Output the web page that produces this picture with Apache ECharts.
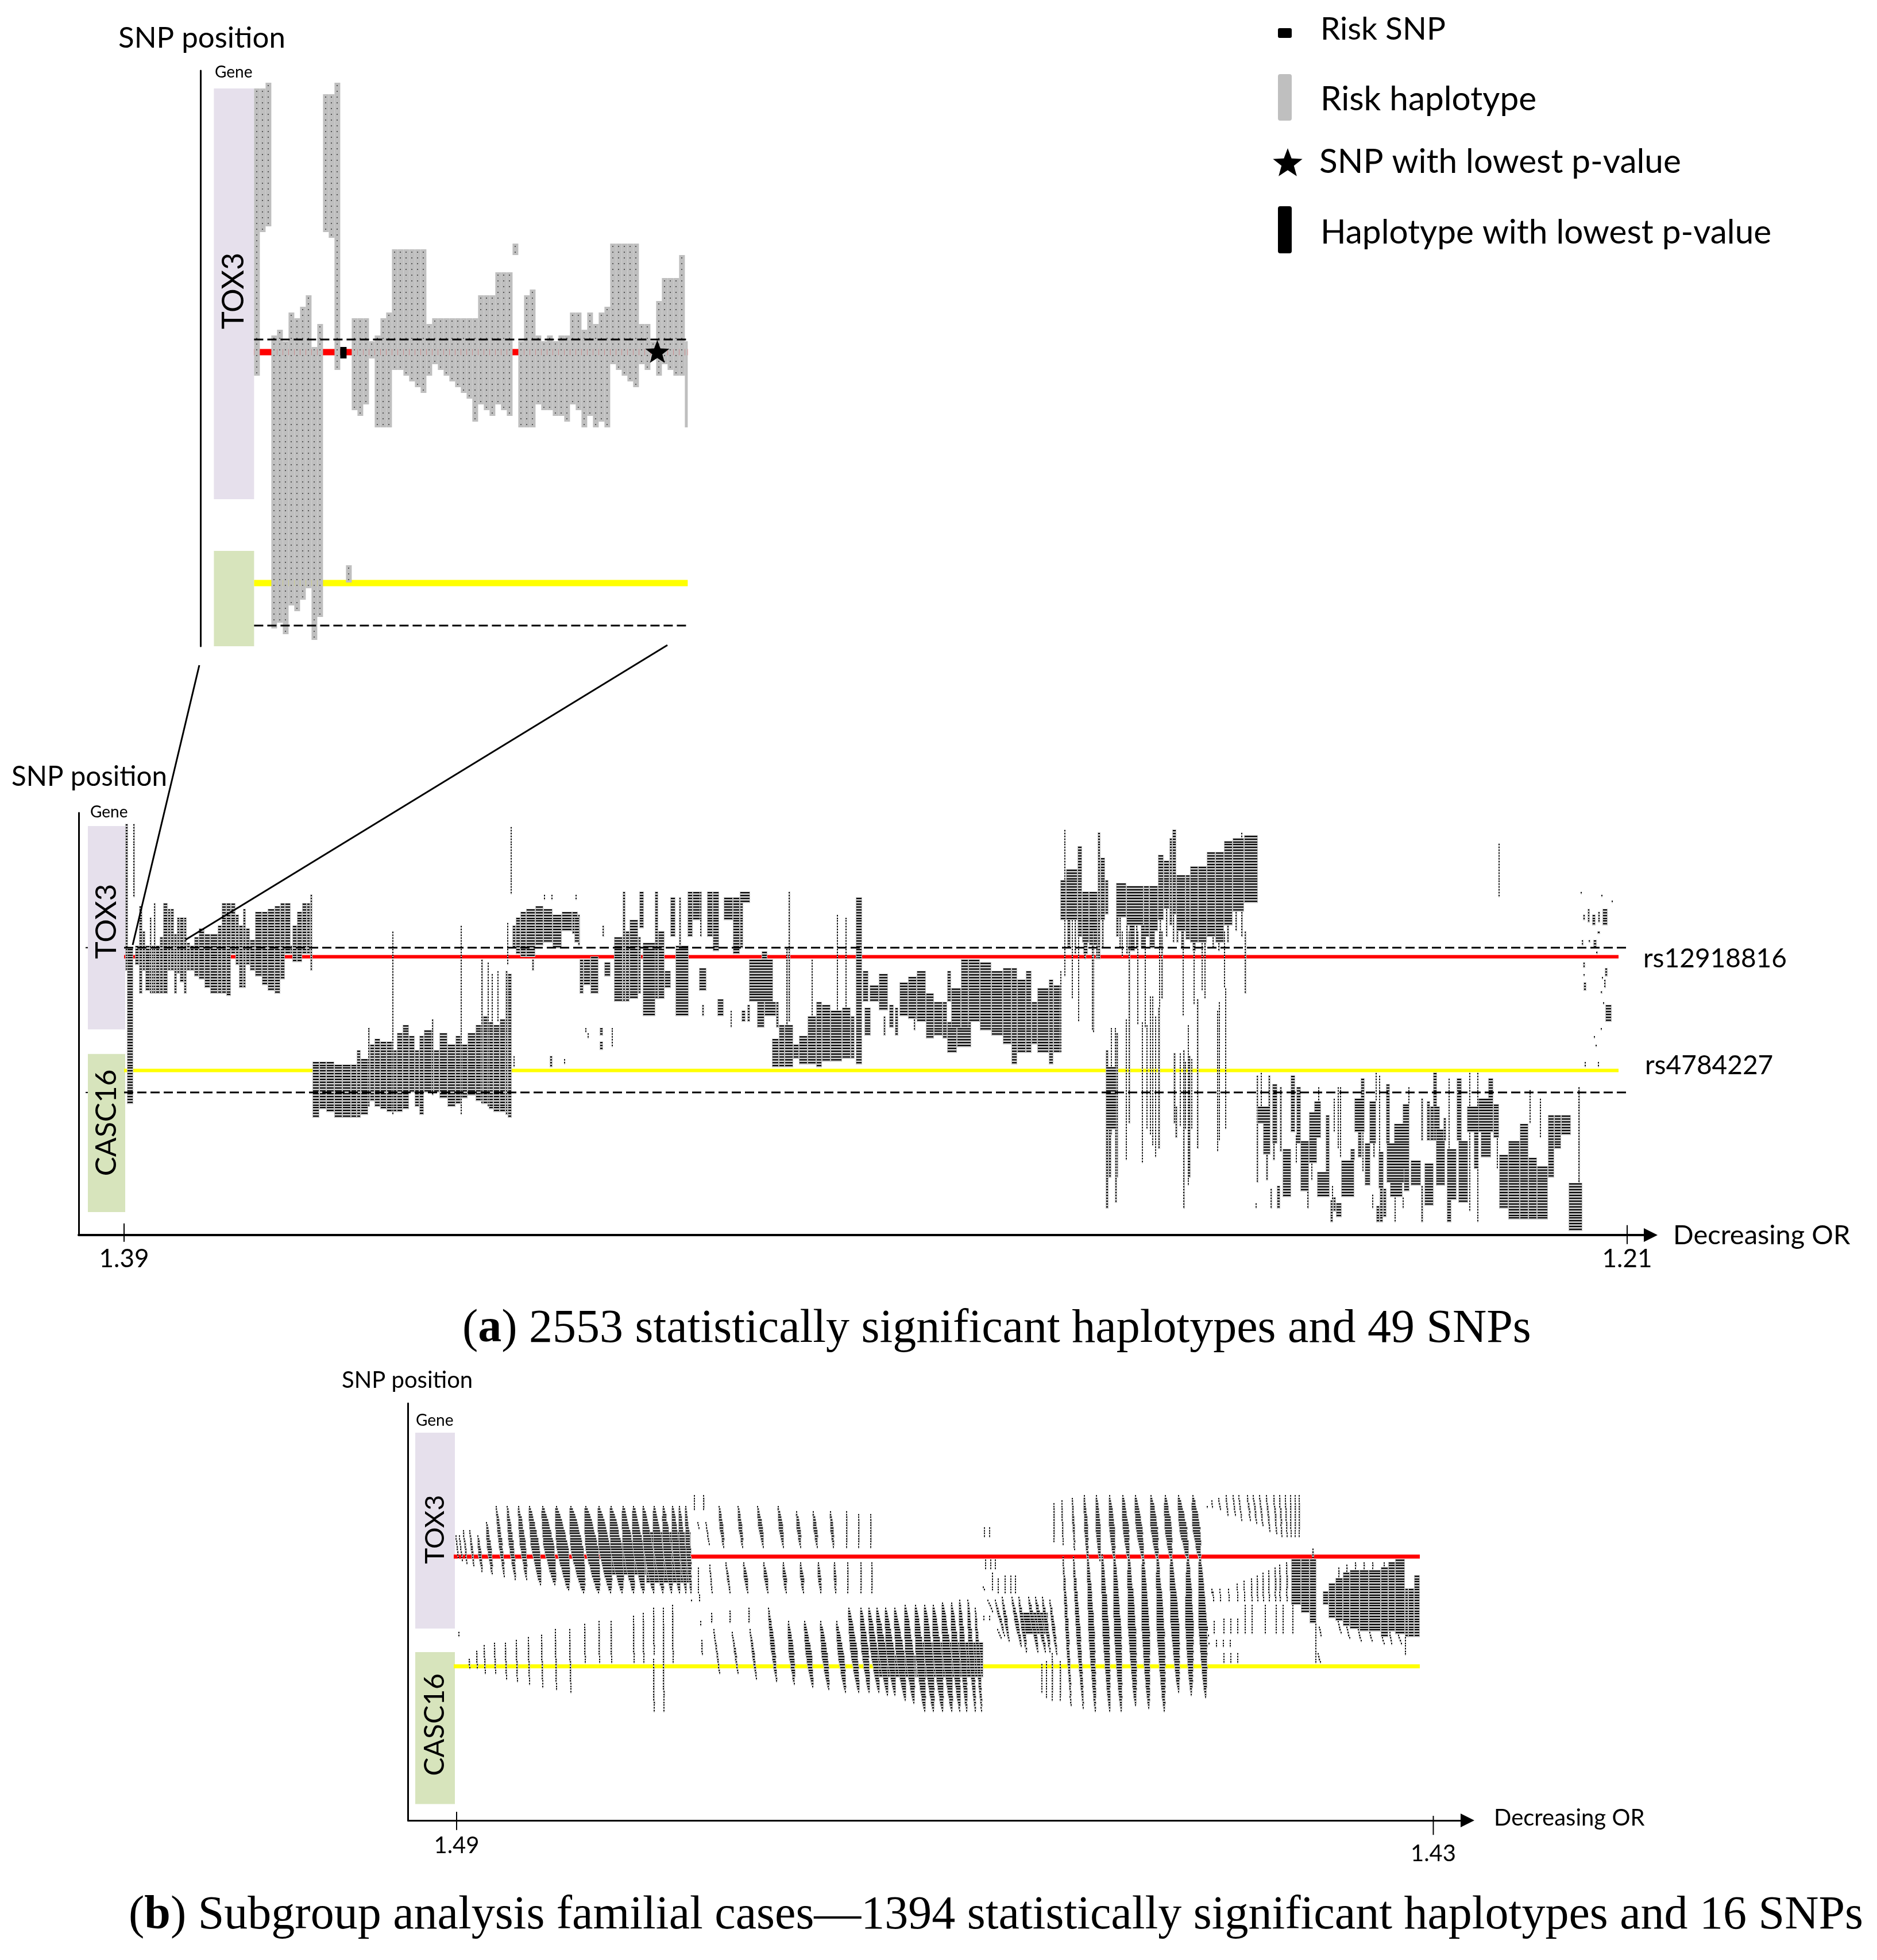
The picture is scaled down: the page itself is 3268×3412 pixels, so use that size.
<!DOCTYPE html>
<html><head><meta charset="utf-8">
<style>html,body{margin:0;padding:0;background:#fff}#c{width:3268px;height:3412px}</style>
<script src="https://cdn.jsdelivr.net/npm/echarts@6/dist/echarts.min.js"></script>
</head><body><div id="c"></div>
<script>
// ---------- inset (a, zoomed): SNP row span of each haplotype column ----------
const insetTop = [1,1,0,44,43,45,40,41,39,37,46,42,2,2,0,null,null,41,41,41,45,44,41,40,29,29,29,29,29,29,42,41,41,41,41,41,41,41,41,37,37,37,33,33,33,null,45,37,36,44,45,44,45,44,44,40,40,43,40,42,40,39,28,28,28,28,28,42,42,45,38,34,34,34,30];
const insetBottom = [51,26,25,95,94,96,91,92,90,88,97,93,26,27,50,null,null,57,58,56,48,60,60,60,50,50,51,52,53,54,51,49,50,51,52,53,54,55,59,56,57,58,56,57,58,null,60,60,60,56,57,57,58,58,59,56,57,60,58,60,59,60,49,50,51,52,53,49,50,48,51,49,50,51,51];
const insetExtra = [[16,17,84,87],[45,46,28,30],[75,75.5,45,60]];
const insetRiskSnp = [[15,16,46,48]];
const insetBestSnp = [70.2,47];
const insetRed = 46.9, insetYellow = 87.1, insetDash = [44.7,94.5];

// ---------- panel a: haplotype blocks [rankStart, rankEnd, rowTop, rowBottom] ----------
const mainEarly = [[2,7,0,52],[16,19,0,26],[5,16,44,99],[19,26,43,50],[26,32,29,60],[32,37,38,52],[37,45,43,59],[45,48,33,60],[48,52,43,60],[52,55,28,60],[55,62,43,60],[62,68,40,60],[68,76,28,60],[76,81,30,52],[81,87,30,52],[87,92,39,60],[92,97,33,53],[97,104,33,56],[104,109,33,60],[109,115,42,52],[115,122,43,52],[122,130,40,54],[130,140,37,55],[140,150,39,58],[150,163,39,60],[163,170,36,60],[170,178,28,60],[178,186,28,61],[186,194,28,46],[194,200,32,50],[200,207,36,58],[207,212,30,58],[212,219,37,50],[219,228,41,52],[228,240,31,54],[240,250,31,57],[250,262,30,59],[262,272,29,60],[272,280,28,55],[280,290,28,46],[290,293,43,46],[293,301,36,49],[301,310,31,49],[310,318,28,46],[318,324,28,46],[324,328,25,52]];
const mainCasc1 = [[328,340,84,104],[340,352,84,101],[352,366,84,102],[366,380,85,104],[380,395,85,104],[395,405,85,104],[405,412,80,104],[412,425,83,103],[425,428,72,100],[428,436,78,98],[436,446,76,100],[446,457,77,101],[457,467,77,102],[467,469,38,103],[469,475,80,102],[475,485,74,102],[485,496,71,101],[496,506,75,95],[506,514,80,100],[514,522,75,103],[522,536,73,95],[536,539,69,96],[539,549,80,95],[549,563,74,97],[563,577,78,100],[577,586,75,99],[586,588,36,103],[588,598,78,97],[598,612,74,96],[612,622,71,98],[622,625,48,99],[625,633,68,99],[633,635,49,100],[635,643,70,101],[643,654,71,102],[654,664,69,102],[664,668,52,103],[668,675,53,104],[640,642,53,70],[650,652,52,70],[673,675,1,25],[667,669,35,50]];
const mainTox2 = [[676,682,36,44],[682,690,33,46],[690,700,31,47],[700,716,30,47],[716,730,29,43],[730,746,30,42],[746,762,32,44],[762,780,31,38],[780,790,31,39],[790,794,32,43],[731,733,25,27],[744,746,25,27],[786,788,25,27],[833,836,36,40],[710,714,48,52],[741,746,82,86],[766,768,83,85],[678,680,82,86],[784,793,33,42],[793,800,48,60],[800,812,48,57],[812,826,47,60],[836,847,49,54],[853,868,40,63],[868,873,24,63],[873,880,38,63],[880,895,34,62],[895,900,40,60],[897,905,24,37],[903,925,42,68],[924,930,24,62],[930,941,38,62],[941,952,52,58],[951,960,26,40],[960,983,43,68],[966,970,26,44],[981,990,24,40],[990,1003,24,34],[1003,1006,24,40],[1001,1014,51,59],[1006,1010,64,68],[1015,1025,24,40],[1025,1036,24,45],[1033,1044,62,68],[1044,1060,26,34],[1060,1072,26,46],[1072,1078,27,44],[1072,1090,24,28],[1056,1058,66,72],[1075,1082,66,70],[1085,1090,64,70],[1088,1130,48,63],[1110,1120,45,48],[1102,1115,63,72],[1115,1135,63,68],[1135,1140,63,72],[1157,1160,24,70],[1153,1156,44,75],[803,805,72,74],[807,809,74,76],[828,834,72,75],[828,834,77,80],[849,851,72,79]];
const mainCasc2 = [[1128,1140,76,86],[1140,1150,71,86],[1150,1165,71,86],[1165,1175,78,83],[1175,1190,75,85],[1190,1205,68,85],[1205,1215,63,86],[1215,1230,64,84],[1230,1250,66,84],[1250,1265,65,83],[1265,1272,68,83],[1274,1285,26,85],[1241,1243,32,68],[1256,1258,33,68],[1197,1199,48,68],[1286,1296,52,63],[1289,1300,65,75],[1298,1314,57,63],[1314,1330,53,66],[1332,1340,64,72],[1342,1348,65,75],[1322,1326,68,75],[1350,1365,56,68],[1365,1380,54,69],[1380,1396,52,70],[1375,1378,68,73],[1396,1410,60,76],[1410,1425,63,75],[1425,1433,63,76]];
const mainMid = [[1433,1450,70,81],[1450,1475,70,79],[1433,1440,52,63],[1440,1457,58,72],[1457,1470,48,72],[1470,1490,48,70],[1490,1510,49,73],[1510,1530,52,75],[1530,1545,51,78],[1545,1555,51,85],[1555,1570,55,81],[1570,1580,52,81],[1580,1590,63,78],[1590,1610,58,81],[1610,1618,55,85],[1618,1630,57,81],[1630,1632,52,81]];
const mainTop = [[1630,1640,20,34],[1640,1660,16,34],[1660,1668,8,40],[1668,1680,24,42],[1680,1695,24,43],[1695,1700,3,48],[1700,1708,12,34],[1708,1714,20,32],[1637,1639,2,54],[1650,1652,29,62],[1661,1663,29,70],[1687,1689,43,74],[1672,1675,43,48],[1727,1745,21,33],[1745,1775,22,36],[1775,1785,22,40],[1785,1800,22,38],[1800,1810,11,34],[1810,1820,13,30],[1820,1825,5,36],[1825,1832,2,32],[1832,1848,18,38],[1848,1856,18,41],[1856,1870,15,42],[1870,1885,15,42],[1885,1900,10,40],[1900,1915,10,42],[1915,1930,6,36],[1930,1950,5,31],[1950,1974,4,28],[1945,1947,3,30],[1642,1648,34,44],[1655,1658,34,46],[1670,1678,42,46],[1692,1696,43,48],[1702,1706,34,44],[1727,1732,33,40],[1733,1736,33,44],[1745,1748,36,46],[1750,1760,36,45],[1762,1765,36,44],[1770,1778,36,44],[1785,1795,38,44],[1803,1806,34,44],[1814,1817,30,40],[1826,1829,32,42],[1832,1836,38,42],[1840,1846,38,44],[1860,1866,42,45],[1880,1884,42,44],[1895,1898,40,44],[1905,1908,42,45],[1920,1924,36,42],[1935,1938,31,38],[1945,1948,31,40]];
const mainThin = [[1685,1688,38,73],[1709,1714,80,136],[1709,1731,86,108],[1718,1720,72,110],[1725,1727,72,120],[1727,1731,74,125],[1725,1729,108,134],[1714,1719,108,125],[1744,1746,69,119],[1749,1752,38,106],[1737,1739,38,47],[1764,1766,38,71],[1772,1774,70,120],[1777,1779,38,72],[1780,1782,71,108],[1786,1788,61,110],[1790,1792,61,114],[1795,1797,68,118],[1800,1804,65,115],[1802,1804,38,65],[1806,1809,38,62],[1827,1831,81,106],[1830,1834,100,111],[1838,1840,81,107],[1843,1845,38,68],[1844,1847,80,136],[1847,1849,84,108],[1852,1854,71,128],[1854,1857,82,125],[1858,1860,83,108],[1862,1864,38,64],[1868,1871,62,115],[1876,1878,38,59],[1881,1883,38,62],[1903,1905,66,116],[1906,1908,63,112],[1915,1917,38,58],[1917,1919,58,108],[1951,1954,38,60]];
const mainCasc3 = [[1972,1975,89,127],[1979,1981,88,100],[1973,1996,100,106],[1983,1996,106,117],[1988,1992,117,126],[1992,1996,89,100],[1999,2008,92,113],[2000,2004,113,119],[2012,2016,93,116],[2017,2032,115,132],[1996,1999,129,136],[2007,2013,128,136],[1970,1971,134,136],[2031,2039,89,109],[2041,2049,93,113],[2040,2042,110,120],[2048,2063,112,130],[2063,2077,110,120],[2063,2084,102,111],[2072,2084,98,102],[2079,2081,93,98],[2060,2063,130,136],[2067,2069,120,126],[2077,2099,123,132],[2092,2099,103,123],[2100,2105,133,141],[2105,2110,132,137],[2110,2120,134,139],[2103,2105,128,133],[2106,2108,97,109],[2113,2115,93,115],[2117,2119,93,118],[2119,2142,119,132],[2135,2143,115,119],[2142,2160,97,109],[2153,2160,90,97],[2148,2155,109,118],[2156,2158,109,123],[2160,2170,113,128],[2168,2180,98,113],[2175,2178,113,118],[2179,2181,88,98],[2185,2187,89,116],[2184,2193,116,129],[2180,2186,135,141],[2186,2192,129,141],[2192,2198,129,139],[2173,2175,131,136],[2197,2204,92,113],[2198,2238,113,127],[2211,2238,106,113],[2226,2238,99,106],[2236,2238,93,99],[2204,2226,127,132],[2212,2214,132,141],[2226,2228,132,136],[2228,2238,122,130],[2240,2258,119,128],[2258,2262,128,141],[2258,2262,97,112],[2268,2274,98,112],[2274,2282,100,112],[2264,2280,120,135],[2279,2286,88,100],[2280,2291,100,112],[2284,2300,108,128],[2306,2308,90,115],[2297,2302,104,112],[2303,2320,115,133],[2303,2311,133,141],[2320,2329,90,112],[2323,2340,112,134],[2342,2344,88,137],[2338,2358,100,109],[2358,2384,97,109],[2350,2358,109,122],[2356,2358,88,141],[2362,2380,109,118],[2375,2384,90,97],[2384,2394,99,111],[2390,2392,109,122],[2394,2410,117,136],[2410,2430,112,140],[2430,2445,106,140],[2445,2460,118,140],[2460,2479,121,140],[2447,2449,94,106],[2465,2467,97,111],[2479,2490,103,125],[2490,2502,103,115],[2502,2519,103,110],[2515,2539,127,144],[2532,2535,93,127],[2393,2395,7,26]];
const mainDots = [[2536,2538,24,25],[2572,2574,25,26],[2590,2592,27,28],[2548,2552,30,35],[2540,2544,32,34],[2556,2562,32,36],[2566,2570,31,35],[2574,2583,30,36],[2565,2570,38,39],[2538,2541,41,43],[2550,2553,41,42],[2558,2564,41,44],[2563,2566,45,46],[2540,2544,49,51],[2578,2583,51,54],[2541,2543,53,54],[2573,2575,54,55],[2577,2580,55,58],[2541,2546,56,59],[2571,2574,59,60],[2575,2577,63,64],[2579,2590,64,70],[2571,2573,72,73],[2559,2561,75,76],[2562,2564,78,79],[2543,2545,84,86],[2566,2568,84,86]];
const redRowMain = 47, yellowRowMain = 87.2, dashRowsMain = [43.8,95];

// ---------- panel b: blocks and slanted bands [xTop,rowTop,xBottom,rowBottom,width] ----------
const bBlocks = [[269,330,18,30],[330,408,14,33],[730,800,60,68],[800,917,55,68],[985,1030,44,52],[1453,1470,24,41],[1470,1485,24,44],[1485,1497,24,48],[1508,1518,36,41],[1518,1530,33,46],[1530,1543,31,47],[1543,1555,29,49],[1555,1572,28,50],[1572,1588,28,51],[1588,1609,28,51],[1609,1622,27,53],[1622,1634,25,51],[1634,1651,24,52],[1651,1657,35,53],[1657,1667,35,53],[1667,1677,30,53]];
const bBandsTox = [[-1,15,3,24,3],[5,15,10,25,3],[12,13,18,26,4],[23,13,30,27,5],[37,15,44,29,7],[52,10,62,30,9],[69,4,83,31,8],[88,4,102,32,10],[108,4,122,32,12],[127,4,146,34,16],[150,4,171,34,20],[174,4,195,36,22],[199,4,221,37,24],[225,4,247,37,24],[248,4,268,37,22],[269,4,288,37,22],[290,4,308,37,20],[308,4,325,37,20],[325,4,343,37,18],[344,4,359,37,18],[360,4,374,37,16],[376,4,388,37,14],[388,4,399,37,12],[399,4,408,37,10],[414,0,414,6,2],[430,0,430,6,3],[420,10,422,13,2],[434,10,440,19,3],[421,27,421,37,2],[441,26,445,37,3],[457,4,465,20,8],[490,4,498,20,8],[524,4,534,20,9],[560,4,569,20,9],[592,6,599,20,8],[621,6,628,20,8],[651,6,656,20,7],[679,6,679,20,3],[700,7,700,20,3],[721,7,721,20,3],[469,25,476,37,5],[500,25,507,37,8],[535,25,542,37,8],[569,25,574,37,8],[599,25,604,37,8],[630,25,634,37,7],[658,25,660,37,6],[681,25,681,37,3],[704,25,704,37,3],[723,25,723,37,3],[409,39,409,40,3],[423,37,423,40,2]];
const bBandsCasc = [[4,51,4,53,3],[22,61,23,65,3],[35,58,36,65,3],[48,56,50,67,3],[66,55,68,67,3],[85,55,87,69,3],[104,54,106,70,3],[125,53,127,71,3],[148,52,150,72,3],[172,50,174,73,3],[197,50,199,74,3],[223,48,224,63,3],[248,47,249,63,3],[269,47,270,63,3],[308,45,309,63,3],[325,44,326,63,3],[343,42,344,60,3],[343,61,344,81,3],[360,42,361,81,3],[376,41,377,63,3],[425,47,425,49,2],[427,54,428,60,3],[444,44,444,48,3],[448,50,458,67,4],[476,43,476,48,3],[480,51,490,67,5],[509,42,509,48,3],[511,50,522,69,6],[543,42,557,70,9],[578,47,588,71,11],[606,47,620,72,12],[634,47,648,73,12],[662,47,677,74,12],[683,42,700,74,14],[704,42,718,74,14],[718,42,735,74,14],[732,42,750,75,15],[747,42,763,75,15],[763,42,781,77,16],[781,41,796,78,16],[799,41,815,81,16],[815,41,830,81,16],[830,41,846,81,16],[846,40,862,81,16],[862,40,876,81,14],[876,39,888,81,12],[890,39,903,81,10],[903,42,914,81,8]];
const bBandsMid = [[919,12,919,16,2],[928,12,928,16,2],[921,24,921,28,2],[930,24,930,28,2],[938,24,938,28,2],[933,29,933,36,2],[943,31,943,37,2],[955,30,955,37,2],[965,30,965,37,2],[973,30,973,37,2],[917,34,919,36,3],[918,45,918,47,3],[928,45,928,47,3],[925,39,933,44,3],[938,39,954,53,6],[950,38,962,55,7],[967,38,983,57,8],[979,38,992,59,8],[996,38,1012,59,9],[1008,38,1025,59,9],[1020,38,1033,59,8],[1033,39,1045,60,7],[942,50,948,54,3],[1019,63,1019,74,2],[1027,62,1027,76,2],[1037,59,1037,77,3],[1051,62,1051,77,3]];
const bBandsLong = [[1040,3,1040,18,3],[1054,2,1056,19,3],[1072,1,1076,21,5],[1093,0,1099,25,8],[1114,0,1120,25,10],[1137,0,1145,25,11],[1160,0,1170,25,12],[1182,0,1195,25,13],[1209,0,1220,25,14],[1234,0,1244,25,14],[1257,0,1273,25,15],[1282,0,1294,25,15],[1056,23,1070,79,7],[1074,23,1091,80,9],[1099,22,1112,81,12],[1124,22,1137,81,13],[1145,22,1157,81,14],[1170,22,1182,79,15],[1195,22,1205,80,15],[1220,22,1232,81,15],[1244,22,1257,74,16],[1273,22,1279,75,16],[1294,22,1304,76,16]];
const bBandsRight = [[1307,4,1307,5,3],[1315,2,1316,5,3],[1327,1,1330,6,3],[1340,0,1343,8,3],[1352,0,1356,8,3],[1362,0,1367,10,3],[1377,0,1382,10,4],[1387,0,1393,11,4],[1398,0,1404,12,4],[1410,0,1416,14,4],[1423,0,1428,15,4],[1433,0,1437,16,4],[1443,0,1446,16,3],[1452,0,1453,16,3],[1460,0,1460,16,3],[1467,0,1467,16,3],[1315,35,1315,37,2],[1317,36,1318,40,2],[1329,35,1330,40,2],[1344,35,1345,40,2],[1359,33,1360,40,2],[1371,32,1372,40,2],[1384,31,1385,40,3],[1394,30,1395,40,3],[1404,29,1405,40,3],[1414,28,1415,40,3],[1425,27,1426,40,4],[1433,26,1434,40,4],[1445,25,1446,40,4],[1491,20,1491,24,4],[1319,47,1319,52,2],[1336,46,1336,52,2],[1348,46,1348,52,2],[1360,46,1360,52,2],[1373,41,1373,52,2],[1385,41,1385,52,2],[1408,41,1408,52,2],[1427,41,1427,52,2],[1439,41,1439,52,2],[1456,41,1456,52,2],[1323,54,1323,57,2],[1335,54,1335,57,2],[1347,54,1347,57,2],[1336,59,1336,63,2],[1348,59,1348,63,2],[1360,59,1360,63,2],[1496,48,1496,63,2],[1502,49,1505,53,3],[1500,59,1504,63,3],[1307,49,1307,51,3],[1309,52,1309,53,3],[1310,55,1310,56,3],[1652,53,1652,60,2],[1536,27,1536,31,3],[1550,26,1550,29,3],[1565,25,1565,28,3],[1580,25,1580,28,3],[1595,25,1595,28,3],[1615,25,1615,27,3],[1535,47,1540,52,3],[1550,49,1555,54,3],[1570,50,1575,55,3],[1590,51,1594,55,3],[1612,53,1615,56,3],[1625,51,1628,56,3],[1640,52,1645,56,3]];
const redRowB = 23.1, yellowRowB = 64;

// ---------- labels ----------
const geneSpansInset = [['TOX3',1,72.5],['',81.5,98.1]];
const geneSpansMain = [['TOX3',0.8,72.7],['CASC16',81.4,137.3]];
const geneSpansB = [['TOX3',-23.1,49.9],['CASC16',58.7,115.3]];
const ticksMain = [[0,'1.39'],[2617,'1.21']];
const ticksB = [[0,'1.49'],[1700.5,'1.43']];
const legendItems = ['Risk SNP','Risk haplotype','SNP with lowest p-value','Haplotype with lowest p-value'];

const FONT='Lato', GRAY='#BFBFBF', RED='#FF0000', YEL='#FFFF00', PUR='#E6E0EC', GRN='#D7E4BC';

function rowRect(ch, xl, xr, yTop, h){
  const x=Math.round(xl), w=Math.max(2,Math.round(xr-xl)), y=Math.round(yTop), H=Math.ceil(h);
  ch.push({type:'rect',shape:{x,y,width:w,height:H},style:{fill:GRAY}});
  const bx=w>=4?x+1:x, bw=w>=4?w-2:(w>=3?2:w);
  ch.push({type:'rect',shape:{x:bx,y:y+1,width:bw,height:2},style:{fill:'#000'}});
}
function renderBlock(p,api){
  const x0=api.value(0),x1=api.value(1),t=api.value(2),b=api.value(3),ch=[];
  const xl=api.coord([x0,t])[0],xr=api.coord([x1,t])[0];
  const h=api.size([0,1])[1];
  for(let r=t;r<b;r++) rowRect(ch,xl,xr,api.coord([x0,r])[1],h);
  return {type:'group',children:ch};
}
function renderBand(p,api){
  const x0=api.value(0),r0=api.value(1),x1=api.value(2),r1=api.value(3),w=api.value(4),ch=[];
  const h=api.size([0,1])[1], u=api.size([1,0])[0];
  const n=Math.max(1,r1-r0-1);
  for(let r=r0;r<r1;r++){
    const t=(r-r0)/n, cx=x0+(x1-x0)*t, ww=2+(w-2)*Math.pow(1-Math.abs(2*t-1),0.55);
    const c=api.coord([cx,r]);
    rowRect(ch,c[0]-ww*u/2,c[0]+ww*u/2,c[1],h);
  }
  return {type:'group',children:ch};
}
function renderInset(p,api){
  const x0=api.value(0),x1=api.value(1),t=api.value(2),b=api.value(3),ch=[];
  const a=api.coord([x0,t]),c=api.coord([x1,b]);
  ch.push({type:'rect',shape:{x:a[0],y:a[1],width:c[0]-a[0],height:c[1]-a[1]},style:{fill:GRAY}});
  for(let i=x0;i<x1-0.6;i++)for(let r=t;r<b;r++){
    const d=api.coord([i+0.5,r+0.5]);
    ch.push({type:'rect',shape:{x:Math.round(d[0])-1,y:Math.round(d[1])-1,width:2,height:2},style:{fill:'#555'}});
  }
  return {type:'group',children:ch};
}
function starPts(cx,cy,R){const p=[];for(let i=0;i<10;i++){const a=-Math.PI/2+i*Math.PI/5,q=i%2?R*0.42:R;p.push([cx+q*Math.cos(a),cy+q*Math.sin(a)]);}return p;}

const grids=[
 {left:349,top:123,width:850.4,height:1002},
 {left:137,top:1415,width:2737,height:735},
 {left:710.5,top:2443,width:1844.5,height:726}
];
const xAxes=[
 {gridIndex:0,type:'value',min:-9.34,max:75.7,show:false},
 {gridIndex:1,type:'value',min:-79,max:2658,position:'bottom',splitLine:{show:false},axisTick:{show:false},
  axisLine:{show:true,onZero:false,lineStyle:{color:'#000',width:4},symbol:['none','triangle'],symbolSize:[24,24]},
  axisLabel:{customValues:ticksMain.map(t=>t[0]),formatter:v=>{const f=ticksMain.find(a=>a[0]===v);return f?f[1]:'';},fontFamily:FONT,fontSize:44,color:'#000',margin:20}},
 {gridIndex:2,type:'value',min:-84.5,max:1760,position:'bottom',splitLine:{show:false},axisTick:{show:false},
  axisLine:{show:true,onZero:false,lineStyle:{color:'#000',width:3},symbol:['none','triangle'],symbolSize:[24,24]},
  axisLabel:{customValues:ticksB.map(t=>t[0]),formatter:v=>{const f=ticksB.find(a=>a[0]===v);return f?(v===0?'{a|'+f[1]+'}':'{b|'+f[1]+'}'):'';},margin:24,color:'#000',
   rich:{a:{fontFamily:FONT,fontSize:40,color:'#000'},b:{fontFamily:FONT,fontSize:40,color:'#000',padding:[14,0,0,0]}}}}
];
const yAxis=(gi,min,max,w)=>({gridIndex:gi,type:'value',inverse:true,min,max,splitLine:{show:false},axisTick:{show:false},axisLabel:{show:false},axisLine:{show:true,onZero:false,lineStyle:{color:'#000',width:w}}});
const yAxes=[yAxis(0,-2.1,98.1,3),yAxis(1,-3.86,145.4,3),yAxis(2,-34,121.4,3)];

const lineS=(gi,pts,color,width,dash,z)=>({type:'line',xAxisIndex:gi,yAxisIndex:gi,data:pts,showSymbol:false,silent:true,clip:false,z,animation:false,
  lineStyle:{color,width,type:dash?[16,7]:'solid',cap:'butt'}});
const geneS=(gi,spans,x0,x1,fonts,offs)=>({type:'custom',xAxisIndex:gi,yAxisIndex:gi,z:1,silent:true,clip:false,animation:false,
  data:spans.map((s,i)=>[i,s[1],s[2]]),
  renderItem(p,api){const i=api.value(0),a=api.coord([x0,api.value(1)]),b=api.coord([x1,api.value(2)]);
    return {type:'group',children:[
      {type:'rect',shape:{x:a[0],y:a[1],width:b[0]-a[0],height:b[1]-a[1]},style:{fill:i===0?PUR:GRN}},
      {type:'text',x:(a[0]+b[0])/2,y:(a[1]+b[1])/2+offs[i],rotation:Math.PI/2,style:{text:spans[i][0],fontFamily:FONT,fontSize:fonts[i],fill:'#000',align:'center',verticalAlign:'middle'}}
    ]};}
});
const blockS=(gi,data)=>({type:'custom',xAxisIndex:gi,yAxisIndex:gi,z:2,silent:true,clip:false,animation:false,progressive:0,data,renderItem:renderBlock,encode:{x:[0,1],y:[2,3]}});
const bandS=(gi,data)=>({type:'custom',xAxisIndex:gi,yAxisIndex:gi,z:2,silent:true,clip:false,animation:false,progressive:0,data,renderItem:renderBand,encode:{x:[0,2],y:[1,3]}});

const insetBlocks=[];
insetTop.forEach((t,i)=>{if(t!==null)insetBlocks.push([i,i+1,t,insetBottom[i]]);});
insetExtra.forEach(b=>insetBlocks.push(b));

const series=[
 geneS(0,geneSpansInset,-7,0,[52,52],[-5,0]),
 lineS(0,[[0,insetRed],[75.5,insetRed]],RED,11,false,1),
 lineS(0,[[0,insetYellow],[75.5,insetYellow]],YEL,11,false,1),
 {type:'custom',xAxisIndex:0,yAxisIndex:0,z:2,silent:true,clip:false,animation:false,progressive:0,data:insetBlocks,renderItem:renderInset,encode:{x:[0,1],y:[2,3]}},
 {type:'custom',xAxisIndex:0,yAxisIndex:0,z:4,silent:true,clip:false,animation:false,data:insetRiskSnp,renderItem(p,api){
   const a=api.coord([api.value(0),api.value(2)]),c=api.coord([api.value(1),api.value(3)]);
   return {type:'rect',shape:{x:a[0],y:a[1],width:c[0]-a[0]+1,height:c[1]-a[1]},style:{fill:'#000'}};}},
 {type:'custom',xAxisIndex:0,yAxisIndex:0,z:4,silent:true,clip:false,animation:false,data:[insetBestSnp],renderItem(p,api){
   const c=api.coord([api.value(0),api.value(1)]);
   return {type:'polygon',shape:{points:starPts(c[0],c[1],22)},style:{fill:'#000'}};}},
 lineS(0,[[0,insetDash[0]],[75.5,insetDash[0]]],'#000',3,true,3),
 lineS(0,[[0,insetDash[1]],[75.5,insetDash[1]]],'#000',3,true,3),
 geneS(1,geneSpansMain,-63,2,[51,50],[-11,-18]),
 lineS(1,[[0,redRowMain],[2602,redRowMain]],RED,6,false,1),
 lineS(1,[[0,yellowRowMain],[2602,yellowRowMain]],YEL,6,false,1),
 blockS(1,mainEarly),blockS(1,mainCasc1),blockS(1,mainTox2),blockS(1,mainCasc2),blockS(1,mainMid),blockS(1,mainTop),blockS(1,mainThin),blockS(1,mainCasc3),blockS(1,mainDots),
 lineS(1,[[0,dashRowsMain[0]],[2620,dashRowsMain[0]]],'#000',3,true,3),
 lineS(1,[[0,dashRowsMain[1]],[2620,dashRowsMain[1]]],'#000',3,true,3),
 lineS(1,[[-67,dashRowsMain[0]],[-63,dashRowsMain[0]]],'#000',2,false,3),
 lineS(1,[[-67,dashRowsMain[1]],[-63,dashRowsMain[1]]],'#000',2,false,3),
 lineS(1,[[ticksMain[0][0],141.3],[ticksMain[0][0],147.8]],'#000',2,false,5),
 lineS(1,[[ticksMain[1][0],141.9],[ticksMain[1][0],148.6]],'#000',2,false,5),
 geneS(2,geneSpansB,-72,-3,[47,48],[-2,-6]),
 lineS(2,[[-5,redRowB],[1677,redRowB]],RED,7,false,1),
 lineS(2,[[-5,yellowRowB],[1677,yellowRowB]],YEL,7,false,1),
 blockS(2,bBlocks),bandS(2,bBandsTox),bandS(2,bBandsCasc),bandS(2,bBandsMid),bandS(2,bBandsLong),bandS(2,bBandsRight),
 lineS(2,[[ticksB[0][0],118.2],[ticksB[0][0],125]],'#000',2,false,5),
 lineS(2,[[ticksB[1][0],119.7],[ticksB[1][0],126.8]],'#000',2,false,5)
];

const T=(text,x,y,fs)=>({type:'text',x,y,z:10,style:{text,fontFamily:FONT,fontSize:fs,fill:'#000',align:'left',verticalAlign:'middle'}});
const capStyle={b:{font:'bold 82px "Liberation Serif"',fill:'#000'},n:{font:'82px "Liberation Serif"',fill:'#000'}};
const graphic=[
 T('SNP position',206,67,51),
 T('Gene',374,126,28),
 T('SNP position',20,1353,47.5),
 T('Gene',157,1414,28),
 T('SNP position',595,2403,40),
 T('Gene',724,2473,28),
 T('rs12918816',2861,1669,46),
 T('rs4784227',2864,1855,46),
 T('Decreasing OR',2913,2151,47),
 T('Decreasing OR',2601,3165,40),
 {type:'line',z:9,shape:{x1:347,y1:1158,x2:231,y2:1645},style:{stroke:'#000',lineWidth:3}},
 {type:'line',z:9,shape:{x1:1162,y1:1123,x2:323,y2:1636},style:{stroke:'#000',lineWidth:3}},
 {type:'rect',z:10,shape:{x:2225,y:49,width:24,height:17,r:3},style:{fill:'#000'}},
 {type:'rect',z:10,shape:{x:2225,y:129,width:24,height:81,r:4},style:{fill:GRAY}},
 {type:'polygon',z:10,shape:{points:starPts(2242,285,27)},style:{fill:'#000'}},
 {type:'rect',z:10,shape:{x:2225,y:359,width:24,height:82,r:4},style:{fill:'#000'}},
 T(legendItems[0],2299,51,55),
 T(legendItems[1],2299,173,58.5),
 T(legendItems[2],2297,282,58.5),
 T(legendItems[3],2299,405,58.5),
 {type:'text',z:10,x:805,y:2314,style:{rich:capStyle,text:'{n|(}{b|a}{n|) 2553 statistically significant haplotypes and 49 SNPs}',verticalAlign:'middle',align:'left'}},
 {type:'text',z:10,x:224,y:3335,style:{rich:capStyle,text:'{n|(}{b|b}{n|) Subgroup analysis familial cases\u20141394 statistically significant haplotypes and 16 SNPs}',verticalAlign:'middle',align:'left'}}
];

const chart=echarts.init(document.getElementById('c'),null,{renderer:'canvas',width:3268,height:3412});
chart.setOption({animation:false,backgroundColor:'#fff',grid:grids,xAxis:xAxes,yAxis:yAxes,series,graphic});
</script></body></html>
